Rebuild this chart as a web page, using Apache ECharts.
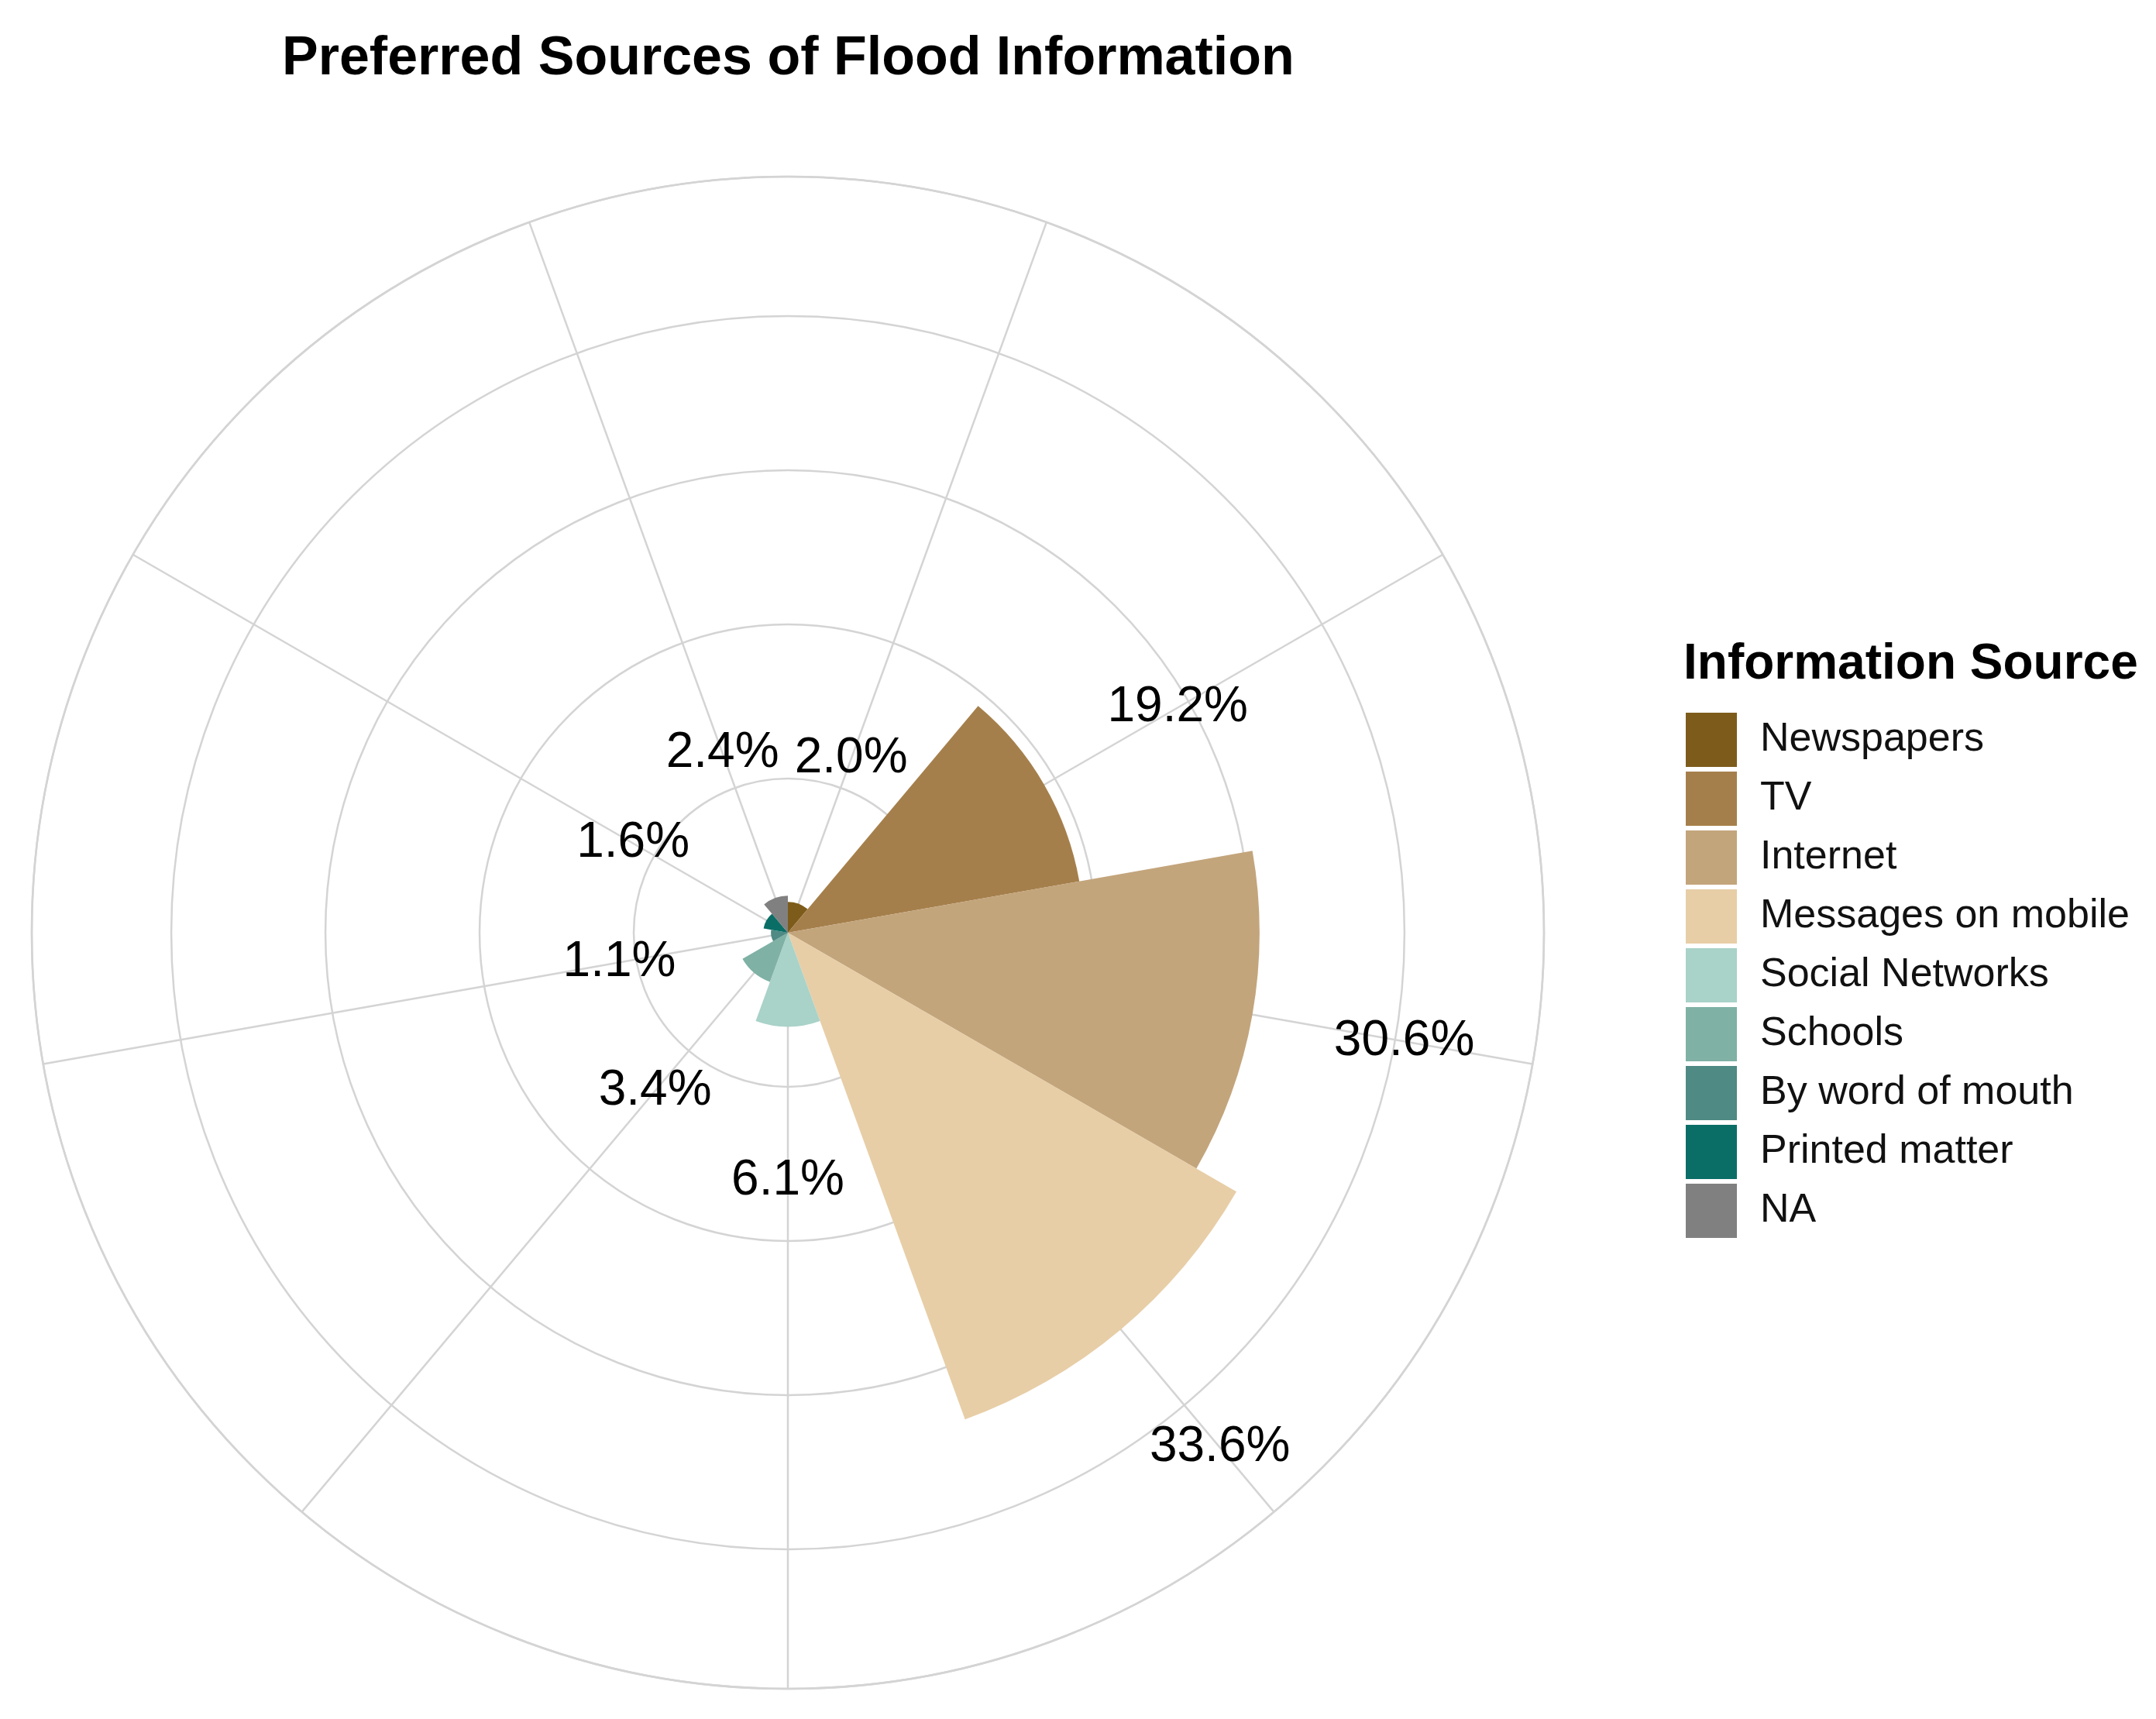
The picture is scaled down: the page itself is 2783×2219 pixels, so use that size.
<!DOCTYPE html>
<html lang="en">
<head>
	<meta charset="UTF-8">
	<title>Preferred Sources of Flood Information</title>
	<script src="https://cdn.jsdelivr.net/npm/echarts@6/dist/echarts.min.js"></script>
	<style>
		html, body { margin: 0; padding: 0; background: #fff; }
		#container { width: 2783px; height: 2219px; }
	</style>
</head>
<body>
	<div id="container"></div>
	<script>
		var categories = ['Newspapers', 'TV', 'Internet', 'Messages on mobile', 'Social Networks',
			'Schools', 'By word of mouth', 'Printed matter', 'NA'];
		var shares = [2.0, 19.2, 30.6, 33.6, 6.1, 3.4, 1.1, 1.6, 2.4];
		var colors = ['#7d5c1b', '#a57f4b', '#c3a57c', '#e7cea7', '#a9d2c8',
			'#7fb1a5', '#4f8a84', '#0a6e66', '#808080'];
		var labelOffset = 10;   // labels sit 10 points beyond each bar
		var radiusMax = 49.05;  // outer ring of the ggplot polar panel

		var center = [1017, 1204];
		var outerRadius = 976;
		var gridColor = '#d4d4d4';
		var font = 'Liberation Sans, Arial, sans-serif';

		// one series per source so that the legend lists every category
		var barSeries = categories.map(function (name, i) {
			return {
				name: name,
				type: 'bar',
				coordinateSystem: 'polar',
				polarIndex: 0,
				stack: 'all',
				barCategoryGap: '0%',
				itemStyle: { color: colors[i] },
				data: shares.map(function (v, j) { return j === i ? v : 0; }),
				z: 3
			};
		});

		var labelSeries = {
			name: 'labels',
			type: 'scatter',
			coordinateSystem: 'polar',
			polarIndex: 0,
			symbolSize: 0,
			itemStyle: { color: '#000', opacity: 1 },
			silent: true,
			z: 5,
			label: {
				show: true,
				position: 'inside',
				fontFamily: font,
				fontSize: 64,
				color: '#000',
				textBorderWidth: 0,
				opacity: 1,
				formatter: function (p) { return shares[p.dataIndex].toFixed(1) + '%'; }
			},
			data: shares.map(function (v, i) { return [v + labelOffset, i]; })
		};

		var myChart = echarts.init(document.getElementById('container'));
		var option = {
			backgroundColor: '#fff',
			animation: false,
			title: [{
				text: 'Preferred Sources of Flood Information',
				left: 364,
				top: 42,
				padding: 0,
				textStyle: { fontFamily: font, fontWeight: 'bold', fontSize: 70, color: '#000' }
			}, {
				text: 'Information Source',
				left: 2173,
				top: 826,
				padding: 0,
				textStyle: { fontFamily: font, fontWeight: 'bold', fontSize: 64, color: '#000' }
			}],
			legend: {
				data: categories,
				orient: 'vertical',
				left: 2176,
				top: 920,
				padding: 0,
				icon: 'rect',
				itemWidth: 66,
				itemHeight: 70,
				itemGap: 6,
				selectedMode: false,
				textStyle: { fontFamily: font, fontSize: 52, color: '#111', padding: [0, 0, 0, 25] }
			},
			polar: [
				{ center: center, radius: outerRadius },
				{ center: center, radius: outerRadius }
			],
			angleAxis: [{
				polarIndex: 0,
				type: 'category',
				data: categories,
				startAngle: 90,
				clockwise: true,
				axisLine: { show: true, lineStyle: { color: gridColor, width: 2.5 } },
				axisTick: { show: false },
				axisLabel: { show: false },
				splitLine: { show: false }
			}, {
				// spokes through the middle of each sector
				polarIndex: 1,
				type: 'category',
				data: categories,
				startAngle: 70,
				clockwise: true,
				axisLine: { show: false },
				axisTick: { show: false },
				axisLabel: { show: false },
				splitLine: { show: true, lineStyle: { color: gridColor, width: 2.5 } }
			}],
			radiusAxis: [{
				polarIndex: 0,
				type: 'value',
				min: 0,
				max: radiusMax,
				interval: 10,
				axisLine: { show: false },
				axisTick: { show: false },
				axisLabel: { show: false },
				splitLine: { show: true, lineStyle: { color: gridColor, width: 2.5 } }
			}, {
				polarIndex: 1,
				type: 'value',
				min: 0,
				max: radiusMax,
				axisLine: { show: false },
				axisTick: { show: false },
				axisLabel: { show: false },
				splitLine: { show: false }
			}],
			series: barSeries.concat([labelSeries])
		};

		myChart.setOption(option);
	</script>
</body>
</html>
